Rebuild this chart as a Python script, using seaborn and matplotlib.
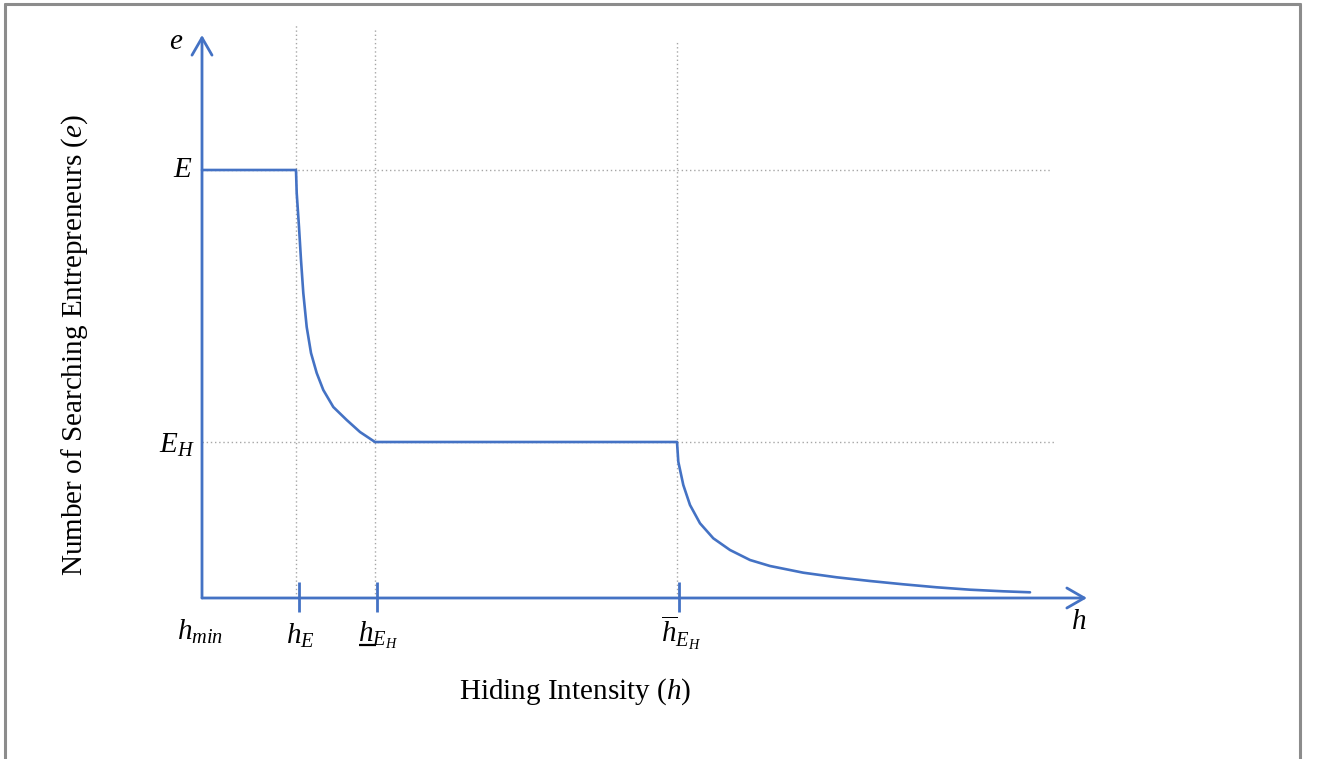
import matplotlib
matplotlib.use("Agg")
import matplotlib.pyplot as plt
import seaborn as sns
import pandas as pd
from matplotlib.lines import Line2D

sns.set_theme(style="white")
plt.rcParams['font.family'] = ['Liberation Serif', 'DejaVu Serif']
plt.rcParams['mathtext.fontset'] = 'custom'
plt.rcParams['mathtext.rm'] = 'Liberation Serif'
plt.rcParams['mathtext.it'] = 'Liberation Serif:italic'
plt.rcParams['mathtext.bf'] = 'Liberation Serif:bold'
plt.rcParams['text.color'] = 'black'

# ---------------- data (conceptual units) ----------------
E_level = 4.28
EH_level = 1.56
h_E = 0.94
h_EH_low = 1.73
h_EH_high = 4.75
h_axis_end = 8.85
e_axis_end = 5.63

# piecewise curve e(h)
curve_h = [0.00, 0.94, 0.947, 0.97, 0.99, 1.013, 1.047, 1.09, 1.147, 1.213,
           1.313, 1.447, 1.58, 1.73,
           4.75, 4.763, 4.813, 4.88, 4.98, 5.113, 5.28, 5.48, 5.68, 6.013,
           6.347, 6.68, 7.013, 7.347, 7.68, 8.013, 8.28]
curve_e = [4.28, 4.28, 4.05, 3.71, 3.38, 3.05, 2.71, 2.45, 2.25, 2.08,
           1.91, 1.78, 1.66, 1.56,
           1.56, 1.363, 1.13, 0.93, 0.747, 0.597, 0.48, 0.38, 0.32, 0.253,
           0.207, 0.17, 0.137, 0.107, 0.083, 0.067, 0.057]

guide_v_pos = [h_E, h_EH_low, h_EH_high]
guide_v_top = [5.73, 5.70, 5.58]
guide_h_levels = [E_level, EH_level]
guide_h_end = [8.48, 8.53]
tick_pos = [h_E + 0.03, h_EH_low + 0.02, h_EH_high + 0.02]

ylabel = "Number of Searching Entrepreneurs ($e$)"
xlabel = "Hiding Intensity ($h$)"

BLUE = "#4472C4"
GRID = "#A6A6A6"

fig = plt.figure(figsize=(13.2, 7.59), dpi=100)
ax = fig.add_axes([0, 0, 1, 1])
ax.set_xlim(-2.02, 11.18)
ax.set_ylim(-1.61, 5.98)
ax.axis('off')

# dotted guides
for x, top in zip(guide_v_pos, guide_v_top):
    ax.plot([x, x], [0, top], color=GRID, lw=1.0, ls=(0, (1, 2)), zorder=1)
for y, end in zip(guide_h_levels, guide_h_end):
    ax.plot([0, end], [y, y], color=GRID, lw=1.0, ls=(0, (1, 2)), zorder=1)

# curve
df = pd.DataFrame({"h": curve_h, "e": curve_e})
sns.lineplot(data=df, x="h", y="e", sort=False, estimator=None, color=BLUE,
             lw=1.9, ax=ax, zorder=3, solid_joinstyle='round')
ax.axis('off')

# axes arrows
arrow_kw = dict(arrowstyle='->,head_length=1.25,head_width=0.72', lw=2.0,
                color=BLUE, shrinkA=0, shrinkB=0, mutation_scale=10)
ax.annotate('', xy=(0, e_axis_end), xytext=(0, 0), arrowprops=arrow_kw, zorder=4)
ax.annotate('', xy=(h_axis_end, 0), xytext=(0, 0), arrowprops=arrow_kw, zorder=4)

# ticks
ax.vlines(tick_pos, -0.14, 0.16, color=BLUE, lw=2.0, zorder=4)

fs = 21
ax.text(-0.26, 5.56, "$e$", fontsize=fs, ha='center', va='center')
ax.text(-0.09, E_level, "$E$", fontsize=fs, ha='right', va='center')
ax.text(-0.07, EH_level - 0.03, "$E_H$", fontsize=fs, ha='right', va='center')
ax.text(-0.02, -0.34, "$h_{min}$", fontsize=fs, ha='center', va='center')
ax.text(h_E + 0.04, -0.38, "$h_{E}$", fontsize=fs, ha='center', va='center')
ax.text(h_EH_low + 0.03, -0.37, r"$h_{E_H}$", fontsize=fs, ha='center', va='center')
# underline beneath the h of the lower threshold label
ax.plot([h_EH_low - 0.16, h_EH_low + 0.01], [-0.465, -0.465], color='black', lw=1.6,
        solid_capstyle='butt', zorder=4)
ax.text(h_EH_high + 0.04, -0.35, r"$\overline{h}_{E_H}$", fontsize=fs, ha='center', va='center')
ax.text(8.77, -0.24, "$h$", fontsize=fs, ha='center', va='center')

ax.text(-1.27, 2.53, ylabel, fontsize=fs, rotation=90, ha='center', va='center')
ax.text(3.73, -0.94, xlabel, fontsize=fs, ha='center', va='center')

# outer frame (open at bottom)
W, H = 1320.0, 759.0
fc = "#8C8C8C"
l_x, r_x, t_y = 4.5 / W, 1299.5 / W, 1 - 3.5 / H
fig.add_artist(Line2D([l_x, l_x], [0, t_y], color=fc, lw=2.2, transform=fig.transFigure))
fig.add_artist(Line2D([r_x, r_x], [0, t_y], color=fc, lw=2.2, transform=fig.transFigure))
fig.add_artist(Line2D([l_x, r_x], [t_y, t_y], color=fc, lw=2.2, transform=fig.transFigure))

fig.savefig("out.png", dpi=100)
